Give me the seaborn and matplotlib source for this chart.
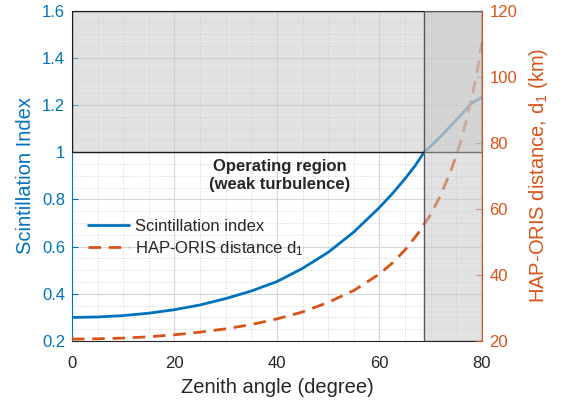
import matplotlib
matplotlib.use("Agg")
import matplotlib.pyplot as plt
import seaborn as sns
from matplotlib.patches import Rectangle
from matplotlib.ticker import MultipleLocator, FormatStrFormatter

sns.set_style("white")
plt.rcParams['font.family'] = ['Liberation Sans', 'DejaVu Sans']
plt.rcParams['mathtext.fontset'] = 'custom'
plt.rcParams['mathtext.rm'] = 'Liberation Sans'
plt.rcParams['mathtext.it'] = 'Liberation Sans:italic'
plt.rcParams['mathtext.bf'] = 'Liberation Sans:bold'

# --- dados ---
angulo_si = [0, 5, 10, 15, 20, 25, 30, 35, 40, 45, 50, 55, 60, 62.5, 65, 67,
             68.7, 70.5, 72.5, 74.4, 76.4, 78, 80]
indice_cintilacao = [0.300, 0.302, 0.308, 0.318, 0.333, 0.353, 0.380, 0.412,
                     0.452, 0.508, 0.576, 0.662, 0.766, 0.824, 0.888, 0.944,
                     1.000, 1.036, 1.079, 1.123, 1.170, 1.208, 1.233]

angulo_d1 = [0, 5, 10, 15, 20, 25, 30, 35, 40, 45, 50, 55, 60, 62.5, 65, 67.5,
             70, 72, 74, 75, 76, 77, 78, 79, 80]
distancia_d1 = [20.6, 20.7, 20.9, 21.3, 21.9, 22.7, 23.7, 25.0, 26.7, 28.8,
                31.7, 35.3, 40.3, 43.6, 47.6, 52.5, 58.3, 64.3, 71.8, 76.2,
                81.1, 87.1, 93.6, 101.1, 110.5]

limite_si = 1.0          # limite de turbulência fraca
angulo_limite = 68.7     # ângulo onde o índice chega a 1

azul = '#0072BD'
laranja = '#D95319'

fig, ax = plt.subplots(figsize=(5.69, 4.07), dpi=100)
fig.subplots_adjust(left=0.1265, right=0.847, bottom=0.162, top=0.974)
ax2 = ax.twinx()

sns.lineplot(x=angulo_si, y=indice_cintilacao, ax=ax, color=azul, lw=2,
             label='Scintillation index', legend=False)
sns.lineplot(x=angulo_d1, y=distancia_d1, ax=ax2, color=laranja, lw=2,
             linestyle=(0, (4.5, 2.8)), label='HAP-ORIS distance d$_1$',
             legend=False, zorder=2)

ax.set_xlim(0, 80)
ax.set_ylim(0.2, 1.6)
ax2.set_ylim(20, 120)

# regiões sombreadas (desenhadas por cima das curvas)
cinza = (0.78, 0.78, 0.78, 0.5)
ax2.add_patch(Rectangle((0, limite_si), 80, 1.6 - limite_si, transform=ax.transData,
                        facecolor=cinza, edgecolor='#1a1a1a', lw=1, zorder=3))
ax2.add_patch(Rectangle((angulo_limite, 0.2), 80 - angulo_limite, 1.4,
                        transform=ax.transData, facecolor=cinza,
                        edgecolor='#5a5a5a', lw=1, zorder=3))

ax2.text(40.5, 0.902, 'Operating region\n(weak turbulence)', transform=ax.transData,
         ha='center', va='center', fontsize=12, fontweight='bold',
         linespacing=1.25, zorder=4)

# eixos e grade
ax.xaxis.set_major_locator(MultipleLocator(20))
ax.xaxis.set_minor_locator(MultipleLocator(5))
ax.yaxis.set_major_locator(MultipleLocator(0.2))
ax.yaxis.set_minor_locator(MultipleLocator(0.05))
ax.yaxis.set_major_formatter(FormatStrFormatter('%g'))
ax2.yaxis.set_major_locator(MultipleLocator(20))
ax.grid(True, which='major', color='#d8d8d8', lw=0.8)
ax.grid(True, which='minor', color='#c8c8c8', lw=0.6, ls=(0, (1, 2)))

ax.tick_params(axis='x', which='major', direction='in', length=4, labelsize=12,
               pad=10.5, color='#262626', labelcolor='#262626')
ax.tick_params(axis='y', which='major', direction='in', length=4, labelsize=12,
               pad=5, color=azul, labelcolor=azul)
ax.tick_params(which='minor', length=0)
ax2.tick_params(axis='y', direction='in', length=4, labelsize=12, pad=5.5,
                color=laranja, labelcolor=laranja)

for lado in ['top', 'bottom']:
    ax.spines[lado].set_color('#262626')
ax.spines['left'].set_color(azul)
ax.spines['right'].set_visible(False)
for lado in ['top', 'bottom', 'left']:
    ax2.spines[lado].set_visible(False)
ax2.spines['right'].set_color(laranja)

ax.set_xlabel('Zenith angle (degree)', fontsize=14.5, color='#262626', labelpad=5)
ax.set_ylabel('Scintillation Index', fontsize=14.5, color=azul, labelpad=5)
ax2.set_ylabel('HAP-ORIS distance, d$_1$ (km)', fontsize=14.5, color=laranja,
               labelpad=7)

h1, l1 = ax.get_legend_handles_labels()
h2, l2 = ax2.get_legend_handles_labels()
leg = ax2.legend(h1 + h2, l1 + l2, loc='center left', bbox_to_anchor=(0.038, 0.31),
                 frameon=False, fontsize=12, handlelength=2.5, handletextpad=0.35,
                 borderpad=0, borderaxespad=0, labelspacing=0.3)
leg.set_zorder(5)

fig.savefig('out.png', dpi=100)
